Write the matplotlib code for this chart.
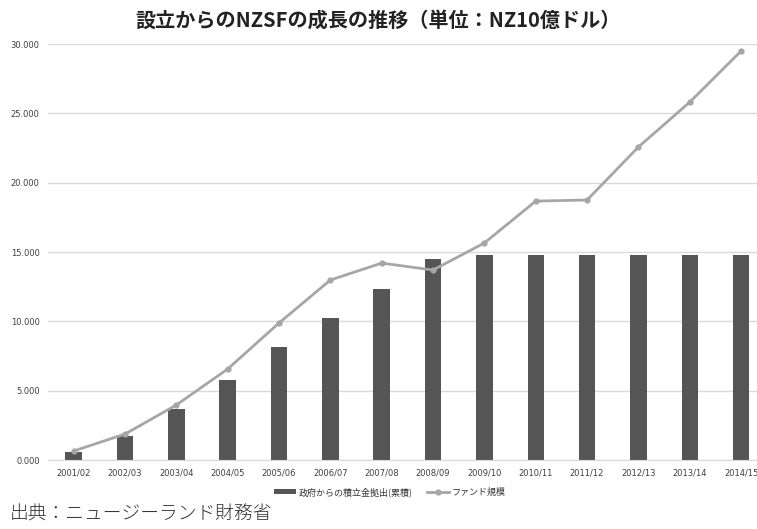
import numpy as np
import matplotlib.pyplot as plt

plt.rcParams['font.family'] = ['Noto Sans CJK JP', 'DejaVu Sans']

# 年度
nendo = ['2001/02', '2002/03', '2003/04', '2004/05', '2005/06', '2006/07', '2007/08',
         '2008/09', '2009/10', '2010/11', '2011/12', '2012/13', '2013/14', '2014/15']
# 政府からの積立金拠出(累積)
kyoshutsu = [0.58, 1.73, 3.68, 5.77, 8.15, 10.24, 12.33,
             14.50, 14.78, 14.78, 14.78, 14.78, 14.78, 14.78]
# ファンド規模
fund = [0.65, 1.87, 3.97, 6.56, 9.88, 12.98, 14.20,
        13.70, 15.65, 18.67, 18.75, 22.57, 25.81, 29.49]
yticks = [0, 5, 10, 15, 20, 25, 30]

fig = plt.figure(figsize=(7.57, 5.29), dpi=100)
ax = fig.add_axes([48 / 757, 69 / 529, 709 / 757, 416 / 529])

x = np.arange(len(nendo))
bars = ax.bar(x, kyoshutsu, width=0.32, color='#555555', label='政府からの積立金拠出(累積)', zorder=2)
line, = ax.plot(x, fund, color='#a6a6a6', lw=2, marker='o', ms=3.5, label='ファンド規模', zorder=3)

ax.set_xlim(-0.5, 13.31)
ax.set_ylim(0, 30)
ax.set_yticks(yticks)
ax.set_yticklabels([f'{v:.3f}' for v in yticks], fontsize=6, color='#404040', family='DejaVu Sans')
ax.set_xticks(x)
ax.set_xticklabels(nendo, fontsize=6, color='#404040', family='DejaVu Sans')
ax.tick_params(length=0, pad=6)
ax.grid(axis='y', color='#d9d9d9', lw=1, zorder=0)
for s in ['top', 'right', 'left']:
    ax.spines[s].set_visible(False)
ax.spines['bottom'].set_color('#d9d9d9')

fig.text(0.5, 0.962, '設立からのNZSFの成長の推移（単位：NZ10億ドル）', ha='center', va='center',
         fontsize=14.5, fontweight='bold', color='#222222')
# 凡例 (棒が先)
leg = fig.legend([bars, line], ['政府からの積立金拠出(累積)', 'ファンド規模'],
                 loc='center', bbox_to_anchor=(0.515, 0.07), ncol=2, frameon=False,
                 fontsize=6.5, handlelength=2.5, columnspacing=1.5, handleheight=0.5,
                 handletextpad=0.3)
for t in leg.get_texts():
    t.set_color('#333333')
fig.text(10 / 757, 0.027, '出典：ニュージーランド財務省', ha='left', va='center',
         fontsize=13.5, color='#333333', fontweight='light')

fig.savefig('out.png', dpi=100)
